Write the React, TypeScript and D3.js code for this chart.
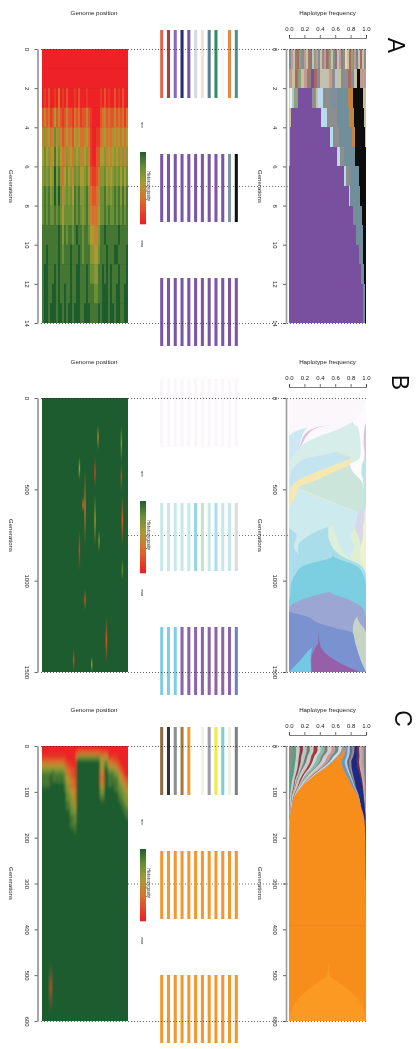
import React, { useEffect, useRef } from 'react'
import * as d3 from 'd3'

const FONT = '"Liberation Sans", Arial, sans-serif'

const ticksA = [0, 2, 4, 6, 8, 10, 12, 14]
const ticksB = [0, 500, 1000, 1500]
const ticksC = [0, 100, 200, 300, 400, 500, 600]
const freqTicks = [0, 0.2, 0.4, 0.6, 0.8, 1]

// heterozygosity digits: 0 = red (min) ... 9 = dark green (max)
const heatStops = [0, 3, 5, 7, 9]
const heatColors = ['#ee2026', '#d9702d', '#a99a33', '#6a8f35', '#1d5c2e']

// panel A heat map, one string per generation, one digit per genome bin
const heatA = [
  '0000000000000000000000000000000000000000000',
  '0000000000000000000000000000000000000000000',
  '0102001030102000102000100000010201002010200',
  '2423125242124221323122421000023423224232313',
  '4645347464235342545334531001134534345453535',
  '5756458575346453656445641002255645456564646',
  '6767569686357564767556752112366756567675757',
  '7878679797467675878667863223477867678786868',
  '7878778787577776878767864333577878778787878',
  '8888888898687887898878875544688988888898888',
  '8898888898788898889878886655788898889988889',
  '8998889898888898899888987766889898988898889',
  '8998899898898898899888988877889998988998899',
  '8998999899898998999889998888989998998998899',
]

// panel C heat map, one string per genome bin, one digit per 10 generations
const heatC = [
  '0013578889', '0013578889', '0013578889', '0013578889', '0013579999',
  '001358889', '001357889', '001357889', '001357889', '001357889', '001357889',
  '001246778899', '000123456677889', '000123456677889',
  '0000122334566778889', '0000122334566778889', '00000112233445677889',
  '0269', '0379', '0379', '0379', '0379', '0379', '0379', '0379', '0379', '0379', '0379', '0379',
  '02455433467899', '02455433467899', '025789', '025789',
  '0013578889', '0013578889', '00135788', '00124678889', '00124678889',
  '0001245677889', '00001245677889', '000001345677889', '0000001345667889', '00000002345667889',
]

// short mutation streaks on the fixed background
const streakBPos = [0.643, 0.915, 0.915, 0.927, 0.427, 0.492, 0.608, 0.608, 0.469, 0.427, 0.492, 0.655, 0.741, 0.36, 0.57, 0.927]
const streakBStart = [148, 148, 356, 531, 323, 394, 323, 531, 542, 723, 1051, 723, 1199, 1368, 1418, 887]
const streakBEnd = [285, 350, 504, 805, 449, 805, 493, 805, 624, 942, 1160, 843, 1450, 1500, 1500, 996]
const streakBPeak = [4, 6, 1, 2, 5, 3, 1, 5, 3, 1, 2, 6, 2, 1, 5, 7]
const streakCPos = [0.093]
const streakCStart = [473]
const streakCEnd = [580]
const streakCPeak = [2]

// panel A haplotype frequencies, one row per generation
const hapAPalette: Record<string, string> = {
  p: '#c39a93', b: '#8f7f76', t: '#cabf9f', g: '#8fa07a', s: '#7f8f9b', l: '#aec6cf',
  v: '#794f9f', k: '#0f0f0f', o: '#c5853f', r: '#a96a60', e: '#8e8e8e', y: '#e3d9a8',
  w: '#eceee6', c: '#b7dbec', m: '#6f8f9a',
}
const hapAKeys = [
  'sptbrgesptbrlgpsteprbgtsrlpbeytrgspblrte',
  'ptrgtpbvrstltpeltserstkpp',
  'ywlgvetcesmokt',
  'tvcemokt',
  'tvcemokt',
  'tvcemkt',
  'tvcemk',
  'vcmk',
  'vmk',
  'vmk',
  'vmk',
  'vmk',
  'vmk',
  'vmk',
]
const hapAWidths = [
  [],
  [],
  [4, 5, 5, 12, 44, 11, 7, 15, 20, 22, 33, 15, 28, 10],
  [6, 90, 19, 30, 35, 15, 31, 5],
  [4, 119, 10, 18, 37, 10, 30, 3],
  [3, 142, 8, 12, 33, 32, 1],
  [1, 165, 4, 12, 27, 22],
  [181, 2, 30, 18],
  [193, 25, 13],
  [201, 20, 10],
  [209, 14, 8],
  [215, 10, 6],
  [221, 6, 4],
  [223, 5, 3],
]

// panel B, early generations
const gensB1 = [0, 131, 164, 208, 252, 296, 328, 361, 405, 449, 493, 542, 586, 624]
const colorsB1 = ['#fbf7fb', '#cce8f4', '#fbf7fb', '#ddc3da', '#fbf7fb', '#d7ede9', '#c4e5f0', '#f7e8b2', '#cdeaef', '#f7eeca', '#cbe5db', '#d7ede9', '#fdfbfd', '#bce4e8', '#dcc3d6', '#d9d8e8', '#f2f2d0']
const freqB1 = [
  [100, 0, 0, 0, 0, 0, 0, 0, 0, 0, 0, 0, 0, 0, 0, 0, 0],
  [82, 0, 0, 0, 0, 1, 0, 0, 0, 0, 0, 0, 17, 0, 0, 0, 0],
  [22, 2, 9, 3, 32, 22, 0, 0, 0, 0, 0, 0, 8, 0, 2, 0, 0],
  [0, 17, 2, 4, 17, 52, 0, 0, 0, 0, 0, 0, 5, 0, 3, 0, 0],
  [0, 14, 1, 2, 2, 74, 0, 0, 0, 0, 0, 0, 4, 0, 3, 0, 0],
  [0, 9, 0, 0, 0, 53, 1, 0, 0, 0, 0, 30, 5, 0, 2, 0, 0],
  [0, 3, 0, 0, 0, 22, 55, 0.5, 0, 0, 0, 11.5, 6, 0, 2, 0, 0],
  [0, 1, 0, 0, 0, 9, 52, 17, 0, 0, 0, 0, 16, 5, 0, 0, 0],
  [0, 1, 0, 0, 0, 2, 33, 22, 0, 0, 25, 0, 11, 6, 0, 0, 0],
  [0, 1, 0, 0, 0, 0, 11, 24, 0, 0, 57, 0, 3, 4, 0, 0, 0],
  [0, 2, 0, 0, 0, 0, 0, 10, 0, 0, 85, 0, 0, 3, 0, 0, 0],
  [0, 1, 0, 0, 0, 0, 0, 7, 30, 2, 57, 0, 0, 3, 0, 0, 0],
  [0, 0, 0, 0, 0, 0, 0, 2, 63, 1, 31, 0, 0, 3, 0, 0, 0],
  [0, 0, 0, 0, 0, 0, 0, 0, 90, 0, 0, 0, 0, 0, 0, 8, 2],
]

// panel B, late generations (starts under the end of the early part)
const gensB2 = [586, 668, 712, 756, 810, 865, 920, 974, 1029, 1062, 1106, 1138, 1171, 1199, 1232, 1259, 1287, 1341, 1368, 1434, 1500]
const colorsB2 = ['#aedcec', '#cdeaef', '#a9dde9', '#7ccfe1', '#7a92cf', '#75c8e4', '#7a92cf', '#9560a8', '#7a92cf', '#9ba6d2', '#c5d4c5', '#9ba6d2', '#7ccfe1', '#a9dde9', '#dcefd8', '#cdeaef', '#e0efd2', '#d9d8e8', '#eef2d0']
const freqB2 = [
  [0, 90, 0, 0, 0, 0, 0, 0, 0, 0, 0, 0, 0, 0, 0, 0, 0, 8, 2],
  [0, 88, 0, 0, 0, 0, 0, 0, 0, 0, 0, 0, 0, 0, 0, 0, 0, 10, 2],
  [0, 47, 4, 0, 0, 0, 0, 0, 0, 0, 0, 0, 0, 0, 6, 28, 0, 11, 4],
  [10, 15, 26, 0, 0, 0, 0, 0, 0, 0, 0, 0, 0, 0, 11, 18, 10, 6, 4],
  [6, 6, 43, 0, 0, 0, 0, 0, 0, 0, 0, 0, 0, 0, 11, 19, 8, 0, 7],
  [12, 0, 45, 1, 0, 0, 0, 0, 0, 0, 0, 0, 0, 10, 7, 5, 12, 0, 8],
  [6, 0, 12, 70, 0, 0, 0, 0, 0, 0, 0, 0, 0, 6, 0, 0, 3, 0, 3],
  [5, 0, 2, 90, 0, 0, 0, 0, 0, 0, 0, 0, 0, 3, 0, 0, 0, 0, 0],
  [2, 0, 0, 98, 0, 0, 0, 0, 0, 0, 0, 0, 0, 0, 0, 0, 0, 0, 0],
  [2, 0, 0, 50, 0, 0, 0, 0, 0, 2, 0, 0, 46, 0, 0, 0, 0, 0, 0],
  [0, 0, 0, 16, 0, 0, 0, 0, 0, 63, 0, 0, 21, 0, 0, 0, 0, 0, 0],
  [0, 0, 0, 2, 0, 0, 0, 0, 0, 91, 0, 0, 7, 0, 0, 0, 0, 0, 0],
  [0, 0, 0, 0, 0, 0, 0, 0, 0, 98, 0, 0, 2, 0, 0, 0, 0, 0, 0],
  [0, 0, 0, 0, 12, 0, 0, 0, 13, 63, 1, 11, 0, 0, 0, 0, 0, 0, 0],
  [0, 0, 0, 0, 19, 0, 0, 0, 19, 46, 8, 8, 0, 0, 0, 0, 0, 0, 0],
  [0, 0, 0, 0, 30, 0, 0, 0, 30, 23, 14, 3, 0, 0, 0, 0, 0, 0, 0],
  [0, 0, 0, 0, 38, 0, 0, 0, 45, 0, 17, 0, 0, 0, 0, 0, 0, 0, 0],
  [0, 0, 0, 0, 38, 0, 0, 2, 46, 0, 14, 0, 0, 0, 0, 0, 0, 0, 0],
  [0, 0, 0, 0, 29, 1, 4, 8, 46, 0, 12, 0, 0, 0, 0, 0, 0, 0, 0],
  [0, 0, 0, 0, 15, 13, 1, 30, 34, 0, 7, 0, 0, 0, 0, 0, 0, 0, 0],
  [0, 0, 0, 0, 0, 29, 0, 63, 8, 0, 0, 0, 0, 0, 0, 0, 0, 0, 0],
]

// panel C, sweep of the orange haplotype
const gensC1 = [0, 9, 22, 35, 48, 61, 74, 87, 107, 129, 161, 205, 292, 391]
const colorsC1 = [
  '#8d8d86', '#4fa283', '#c8c8c8', '#8b3b45', '#b9c7c0', '#6e7f78', '#c9c9c9', '#a03a3a',
  '#d5d5d5', '#7fbfb0', '#8e7d6f', '#cfcfcf', '#c79a9a', '#5f8f8f', '#d8d8d8', '#9a9a9a',
  '#f78e1e',
  '#5c9ad0', '#c5c5c5', '#4f6f9f', '#9a8a8a', '#1f2a86', '#7a2f45', '#b5b5b5', '#c79a9a', '#7f7f7f', '#b5772e',
]
const freqC1 = [
  [5, 4, 5, 4, 5, 4, 5, 5, 4, 5, 4, 5, 5, 4, 5, 4, 0, 3, 3, 3, 3, 3, 3, 3, 3, 3, 0],
  [5, 4, 5, 4, 5, 4, 5, 5, 4, 5, 4, 5, 5, 4, 4, 4, 1, 3, 3, 3, 3, 3, 3, 3, 3, 3, 0],
  [5, 4, 4, 3, 5, 3, 5, 4, 4, 5, 3, 5, 5, 3, 5, 2, 6.5, 3.5, 3, 2.5, 3, 5, 3, 3, 2.5, 3, 0],
  [4, 4, 4, 3, 4, 3, 5, 3, 4, 5, 2, 5, 4, 2, 3, 2, 11, 4, 3, 2.5, 3, 7, 3, 3, 3, 3, 0],
  [3, 4, 4, 2, 3, 2, 5, 3, 3, 4, 1, 5, 3, 1, 3, 1, 23, 4, 2.5, 2, 2.5, 8, 2.5, 3, 2.5, 2.5, 0],
  [2, 4, 3, 2, 2, 1, 4, 2, 2, 3, 1, 4, 2, 1, 2, 0, 39, 3.5, 2, 1.5, 2, 8.5, 2, 2.5, 2, 2, 0],
  [1, 3, 3, 1, 2, 1, 3, 2, 1, 2, 0.5, 3, 1.5, 0.5, 1.5, 0, 52, 3, 1.5, 1, 1.5, 8.5, 1.5, 2, 1.5, 1.5, 0],
  [1, 2, 3, 1, 1, 0.5, 3, 1, 1, 1, 0, 2, 0.5, 0, 0.5, 0, 64.5, 2, 1, 0.5, 1, 8.5, 1, 1.5, 1.5, 1, 0],
  [0.5, 1, 2, 0.5, 0.5, 0, 2, 0.5, 0, 0.5, 0, 0.5, 0, 0, 0, 0, 81, 0.5, 0.5, 0, 0.5, 6, 0.5, 1, 1.5, 0.5, 0],
  [0.5, 0.3, 1.5, 0.2, 0, 0, 1.2, 0, 0, 0.3, 0, 0, 0, 0, 0, 0, 89, 0, 0, 0, 0, 5, 0.3, 0.7, 0.7, 0.3, 0],
  [0, 0, 0.3, 0, 0, 0, 0.2, 0, 0, 0, 0, 0, 0, 0, 0, 0, 97.5, 0, 0, 0, 0, 1.5, 0, 0.2, 0.2, 0.1, 0],
  [0, 0, 0, 0, 0, 0, 0, 0, 0, 0, 0, 0, 0, 0, 0, 0, 99.3, 0, 0, 0, 0, 0.6, 0, 0, 0, 0, 0.1],
  [0, 0, 0, 0, 0, 0, 0, 0, 0, 0, 0, 0, 0, 0, 0, 0, 99.6, 0, 0, 0, 0, 0, 0, 0, 0, 0, 0.4],
  [0, 0, 0, 0, 0, 0, 0, 0, 0, 0, 0, 0, 0, 0, 0, 0, 100, 0, 0, 0, 0, 0, 0, 0, 0, 0, 0],
]

// panel C, the late lighter orange lobe (starts under the end of the sweep)
const gensC2 = [292, 467, 483, 500, 517, 532, 548, 591, 600]
const colorsC2 = ['#f78e1e', '#fa9a20', '#f78e1e']
const freqC2 = [
  [52, 0, 48],
  [52, 0, 48],
  [51, 1, 48],
  [49, 4, 47],
  [36, 30, 34],
  [25, 52, 23],
  [14, 74, 12],
  [1, 98, 1],
  [0.5, 99, 0.5],
]

// sampled haplotypes shown at three time points
const stripsA = [
  ['#e0634d', '#b03a3a', '#8a6bb8', '#2a2a7a', '#7458a8', '#d5d9dc', '#efe2d8', '#5f7f8f', '#2f8f5f', '#f4f8f2', '#e58a3f', '#4f8f8f'],
  ['#7b56a5', '#7b56a5', '#7b56a5', '#7b56a5', '#7b56a5', '#7b56a5', '#7b56a5', '#7b56a5', '#7b56a5', '#7b56a5', '#7f97a3', '#111111'],
  ['#7b56a5', '#7b56a5', '#7b56a5', '#7b56a5', '#7b56a5', '#7b56a5', '#7b56a5', '#7b56a5', '#7b56a5', '#7b56a5', '#7b56a5', '#7b56a5'],
]
const stripsB = [
  ['#faf6fa', '#faf6fa', '#faf6fa', '#faf6fa', '#faf6fa', '#faf6fa', '#faf6fa', '#faf6fa', '#faf6fa', '#faf6fa', '#faf6fa', '#faf6fa'],
  ['#c6e8ea', '#c6e8ea', '#c6e8ea', '#c6e8ea', '#c6e8ea', '#93d5e2', '#c5e3c9', '#c6e8ea', '#a9dde9', '#c6e8ea', '#c6e8ea', '#d9d8e8'],
  ['#7fcde4', '#7fcde4', '#7fcde4', '#8e64a8', '#8e64a8', '#8e64a8', '#8e64a8', '#8e64a8', '#8e64a8', '#8e64a8', '#8e64a8', '#6f82bd'],
]
const stripsC = [
  ['#8f6a3f', '#303038', '#8a8f90', '#a8763a', '#f09a2e', '#ffffff', '#f3f2e4', '#9e9ea8', '#f4ea3a', '#7fcfcf', '#eeeee4', '#7f7f7f'],
  ['#f2982f', '#f2982f', '#f2982f', '#f2982f', '#f2982f', '#f2982f', '#f2982f', '#f2982f', '#f2982f', '#f2982f', '#f2982f', '#f2982f'],
  ['#f2982f', '#f2982f', '#f2982f', '#f2982f', '#f2982f', '#f2982f', '#f2982f', '#f2982f', '#f2982f', '#f2982f', '#f2982f', '#f2982f'],
]

const heatColor = d3.scaleLinear<string>().domain(heatStops).range(heatColors)

// painter's order: every series is filled from the left edge, rightmost first
function drawStream(g, gens, rows, colors, x, y) {
  const keys = d3.range(colors.length)
  const stack = d3.stack()
    .keys(keys)
    .value((row, k) => row[k])
    .offset(d3.stackOffsetExpand)
  const present = s => (d, i) => {
    const has = k => k >= 0 && k < s.length && s[k][1] - s[k][0] > 1e-6
    return has(i) || has(i - 1) || has(i + 1)
  }
  const area = d3.area()
    .y((d, i) => y(gens[i]))
    .x0(x(0))
    .x1(d => x(d[1]))
    .curve(d3.curveMonotoneY)
  const series = stack(rows).reverse()
  g.append('g')
    .selectAll('path')
    .data(series)
    .join('path')
    .attr('fill', d => colors[d.key])
    .attr('d', d => area.defined(present(d))(d))
}

function drawStreaks(g, id, pos, start, end, peak, x, y) {
  const defs = g.append('defs')
  pos.forEach((p, i) => {
    const grad = defs.append('linearGradient')
      .attr('id', `${id}${i}`)
      .attr('x1', 0).attr('x2', 0).attr('y1', 0).attr('y2', 1)
    grad.append('stop').attr('offset', 0).attr('stop-color', heatColor(9))
    grad.append('stop').attr('offset', 0.5).attr('stop-color', heatColor(peak[i]))
    grad.append('stop').attr('offset', 1).attr('stop-color', heatColor(9))
    g.append('rect')
      .attr('x', x(p))
      .attr('y', y(start[i]))
      .attr('width', 1.4)
      .attr('height', y(end[i]) - y(start[i]))
      .attr('fill', `url(#${id}${i})`)
  })
}

function drawPanel(svg, cfg) {
  const y0 = cfg.top
  const y1 = cfg.bottom
  const gMax = cfg.ticks[cfg.ticks.length - 1]
  const y = d3.scaleLinear().domain([0, gMax]).range([y0, y1])
  const heatX = d3.scaleLinear().domain([0, 1]).range([42, 128])
  const hapX = d3.scaleLinear().domain([0, 1]).range([289, 366])
  const g = svg.append('g')

  // dotted guide at the middle sits under the plots
  g.append('line')
    .attr('x1', 128).attr('x2', 368)
    .attr('y1', y(gMax / 2) + 0.5).attr('y2', y(gMax / 2) + 0.5)
    .attr('stroke', '#333').attr('stroke-width', 0.7).attr('stroke-dasharray', '1 2')

  // heat map, softened inside a clip so the blur has no fading edges
  const defs = g.append('defs')
  defs.append('clipPath')
    .attr('id', `clip${cfg.letter}`)
    .append('rect')
    .attr('x', 42).attr('y', y0).attr('width', 86).attr('height', y1 - y0)
  defs.append('filter')
    .attr('id', `heat${cfg.letter}`)
    .attr('filterUnits', 'userSpaceOnUse')
    .attr('x', 30).attr('y', y0 - 12).attr('width', 110).attr('height', y1 - y0 + 24)
    .append('feGaussianBlur')
    .attr('stdDeviation', cfg.heatBlur)
  const heat = g.append('g')
    .attr('clip-path', `url(#clip${cfg.letter})`)
    .append('g')
    .attr('filter', `url(#heat${cfg.letter})`)
  heat.append('rect')
    .attr('x', 34).attr('y', y0 - 8).attr('width', 102).attr('height', y1 - y0 + 16)
    .attr('fill', heatColor(9))
  cfg.drawHeat(heat, heatX, y)

  // haplotype frequency
  const hap = g.append('g')
  cfg.drawHap(hap, hapX, y)

  // sampled haplotypes
  const groupY = d3.scaleBand().domain([0, 1, 2]).range([y0 - 19, y0 + 297]).paddingInner(0.4516)
  const stripX = d3.scaleBand().domain(d3.range(12)).range([158.3, 239.7]).paddingInner(0.55).paddingOuter(0.275)
  cfg.strips.forEach((cols, i) => {
    g.append('g')
      .selectAll('rect')
      .data(cols)
      .join('rect')
      .attr('x', (d, j) => stripX(j))
      .attr('y', groupY(i))
      .attr('width', stripX.bandwidth())
      .attr('height', groupY.bandwidth())
      .attr('fill', d => d)
  })

  // dotted guides on top and bottom
  ;[y0, y1].forEach(v => {
    g.append('line')
      .attr('x1', 41).attr('x2', 368)
      .attr('y1', v + 0.5).attr('y2', v + 0.5)
      .attr('stroke', '#222').attr('stroke-width', 0.7).attr('stroke-dasharray', '1 2')
  })

  // generation axes
  const genAxis = (x, lineColor, lineWidth) => {
    const a = g.append('g')
      .attr('transform', `translate(${x}, 0)`)
      .call(d3.axisLeft(y).tickValues(cfg.ticks).tickFormat(d3.format('d')).tickSize(3).tickSizeOuter(0))
      .attr('font-family', FONT)
      .attr('font-size', 6)
    a.select('.domain').attr('stroke', lineColor).attr('stroke-width', lineWidth)
    a.selectAll('.tick line').attr('stroke', '#222').attr('stroke-width', 0.7)
    a.selectAll('.tick text')
      .attr('x', 0).attr('y', 13).attr('dy', 0)
      .attr('text-anchor', 'middle')
      .attr('transform', 'rotate(90)')
      .attr('fill', '#222')
  }
  genAxis(37.5, '#222', 0.8)
  genAxis(286, '#9a9a9a', 1.6)

  // frequency axis
  const top = g.append('g')
    .attr('transform', `translate(0, ${y0 - 11})`)
    .call(d3.axisTop(hapX).tickValues(freqTicks).tickFormat(d3.format('.1f')).tickSize(3).tickPadding(4).tickSizeOuter(3))
    .attr('font-family', FONT)
    .attr('font-size', 6)
  top.select('.domain').attr('stroke', '#444').attr('stroke-width', 0.7)
  top.selectAll('.tick line').attr('stroke', '#333').attr('stroke-width', 0.7)
  top.selectAll('.tick text').attr('fill', '#222')

  const label = (x, yy, text, size, rotate) => {
    g.append('text')
      .attr('transform', `translate(${x}, ${yy})${rotate ? ' rotate(90)' : ''}`)
      .attr('text-anchor', 'middle')
      .attr('font-family', FONT)
      .attr('font-size', size)
      .attr('fill', '#222')
      .text(text)
  }
  label(94, y0 - 34.5, 'Genome position', 6.2, false)
  label(327.5, y0 - 34.5, 'Haplotype frequency', 6.2, false)
  label(9, y0 + 137.5, 'Generations', 6.05, true)
  label(258, y0 + 137.5, 'Generations', 6.05, true)

  // colour key
  const barY = d3.scaleLinear().domain([9, 0]).range([y0 + 103, y0 + 175])
  const levels = d3.range(0, 9, 0.25)
  g.append('g')
    .selectAll('rect')
    .data(levels)
    .join('rect')
    .attr('x', 140)
    .attr('y', d => barY(d + 0.25))
    .attr('width', 6)
    .attr('height', d => barY(d) - barY(d + 0.25) + 0.3)
    .attr('fill', d => heatColor(d))
  label(146.5, y0 + 137, 'Heterozygosity', 4.5, true)
  label(141, y0 + 76, 'min', 3.6, true)
  label(141, y0 + 195, 'max', 3.6, true)

  g.append('text')
    .attr('transform', `translate(${cfg.letterX}, ${cfg.letterY}) rotate(90)`)
    .attr('text-anchor', 'middle')
    .attr('font-family', FONT)
    .attr('font-size', 23)
    .attr('fill', '#111')
    .text(cfg.letter)
}

const App = () => {
  const ref = useRef(null)
  useEffect(() => {
    const svg = d3.select(ref.current)
    svg.selectAll('*').remove()
    svg.append('defs')
      .append('filter')
      .attr('id', 'soft')
      .attr('x', 0).attr('y', 0).attr('width', 1).attr('height', 1)
      .append('feGaussianBlur')
      .attr('stdDeviation', 0.4)
    const root = svg.append('g').attr('filter', 'url(#soft)')
    root.append('rect').attr('width', 420).attr('height', 1049).attr('fill', '#fff')

    drawPanel(root, {
      letter: 'A', letterX: 388, letterY: 45.5,
      top: 49, bottom: 323, ticks: ticksA, strips: stripsA, heatBlur: '0.6 0.6',
      drawHeat: (g, x, y) => {
        const cols = d3.scaleBand().domain(d3.range(heatA[0].length)).range([42, 128])
        const last = heatA[0].length - 1
        heatA.forEach((row, r) => {
          const edgeTop = r === 0 ? 8 : 0
          const edgeBottom = r === heatA.length - 1 ? 8 : 0
          g.append('g')
            .selectAll('rect')
            .data(row.split(''))
            .join('rect')
            .attr('x', (d, c) => cols(c) - (c === 0 ? 8 : 0))
            .attr('y', y(r) - edgeTop)
            .attr('width', (d, c) => cols.bandwidth() + 0.3 + (c === 0 || c === last ? 8 : 0))
            .attr('height', y(r + 1) - y(r) + 0.3 + edgeTop + edgeBottom)
            .attr('fill', d => heatColor(+d))
        })
      },
      drawHap: (g, x, y) => {
        hapAKeys.forEach((keys, r) => {
          const chars = keys.split('')
          const widths = hapAWidths[r].length ? hapAWidths[r] : chars.map(() => 1)
          const ends = Array.from(d3.cumsum(widths))
          const rowX = d3.scaleLinear().domain([0, ends[ends.length - 1]]).range(x.range())
          g.append('g')
            .attr('shape-rendering', 'crispEdges')
            .selectAll('rect')
            .data(chars.map((c, i) => ({ c, end: ends[i] })).reverse())
            .join('rect')
            .attr('x', rowX(0))
            .attr('y', y(r))
            .attr('width', d => rowX(d.end) - rowX(0))
            .attr('height', y(r + 1) - y(r))
            .attr('fill', d => hapAPalette[d.c])
        })
      },
    })

    drawPanel(root, {
      letter: 'B', letterX: 392, letterY: 382.5,
      top: 398, bottom: 672, ticks: ticksB, strips: stripsB, heatBlur: '0.3 0.8',
      drawHeat: (g, x, y) => {
        drawStreaks(g, 'sb', streakBPos, streakBStart, streakBEnd, streakBPeak, x, y)
      },
      drawHap: (g, x, y) => {
        drawStream(g, gensB2, freqB2, colorsB2, x, y)
        drawStream(g, gensB1, freqB1, colorsB1, x, y)
      },
    })

    drawPanel(root, {
      letter: 'C', letterX: 395, letterY: 718.5,
      top: 746, bottom: 1021, ticks: ticksC, strips: stripsC, heatBlur: '1.1 2',
      drawHeat: (g, x, y) => {
        const cols = d3.scaleBand().domain(d3.range(heatC.length)).range([42, 128])
        const last = heatC.length - 1
        heatC.forEach((col, c) => {
          g.append('g')
            .selectAll('rect')
            .data(col.split(''))
            .join('rect')
            .attr('x', cols(c) - (c === 0 ? 8 : 0))
            .attr('y', (d, r) => y(r * 10) - (r === 0 ? 8 : 0))
            .attr('width', cols.bandwidth() + 0.3 + (c === 0 || c === last ? 8 : 0))
            .attr('height', (d, r) => y(10) - y(0) + 0.3 + (r === 0 ? 8 : 0))
            .attr('fill', d => heatColor(+d))
        })
        drawStreaks(g, 'sc', streakCPos, streakCStart, streakCEnd, streakCPeak, x, y)
      },
      drawHap: (g, x, y) => {
        drawStream(g, gensC2, freqC2, colorsC2, x, y)
        drawStream(g, gensC1, freqC1, colorsC1, x, y)
      },
    })
  }, [])
  return (
    <svg
      ref={ref}
      width={420}
      height={1049}
      style={{ position: 'absolute', left: 0, top: 0, display: 'block', background: '#fff' }}
    />
  )
}

export default App
